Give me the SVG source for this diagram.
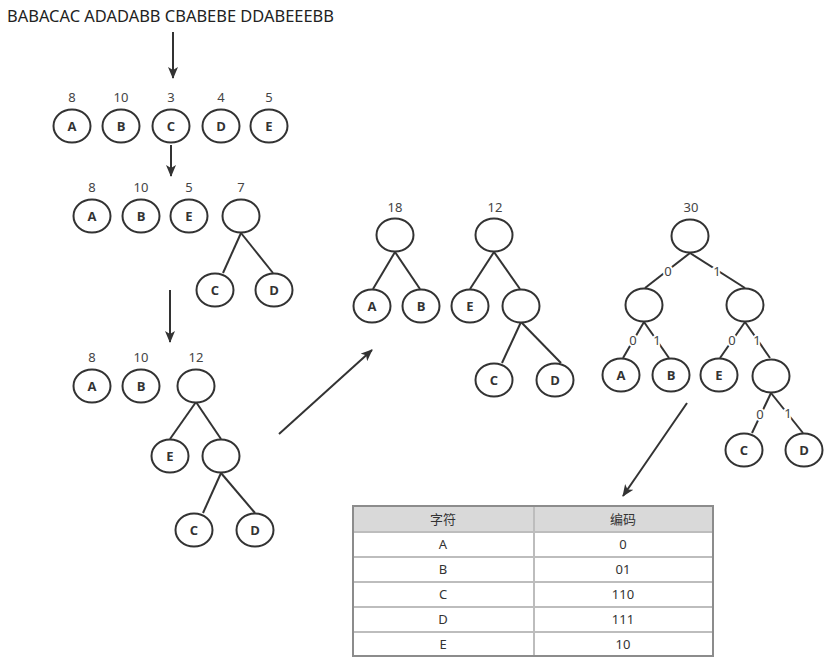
<svg xmlns="http://www.w3.org/2000/svg" width="837" height="666" viewBox="0 0 837 666">
<defs>
<style>
.n ellipse{fill:#fff;stroke:#333;stroke-width:2}
.n text{font-family:"Open Sans","Noto Sans",sans-serif;font-weight:bold;font-size:13px;fill:#333;text-anchor:middle}
.w{font-family:"Noto Sans","Open Sans",sans-serif;font-size:13px;fill:#444;text-anchor:middle}
.e line{stroke:#333;stroke-width:2}
.a line{stroke:#333;stroke-width:2;marker-end:url(#ah)}
.bl{font-family:"Noto Sans","Open Sans",sans-serif;font-size:13px;fill:#444;text-anchor:middle;stroke:#fff;stroke-width:4;paint-order:stroke}
.t{font-family:"Noto Sans","Noto Sans CJK SC",sans-serif;font-size:13px;fill:#333;text-anchor:middle}
</style>
<marker id="ah" markerWidth="12" markerHeight="10" refX="11" refY="5" orient="auto" markerUnits="userSpaceOnUse">
<path d="M0,0 L12,5 L0,10 L3,5 Z" fill="#333"/>
</marker>
</defs>
<rect width="837" height="666" fill="#fff"/>
<text x="7" y="22" font-family="Noto Sans,Open Sans,sans-serif" font-size="16" fill="#222" textLength="327" lengthAdjust="spacingAndGlyphs">BABACAC ADADABB CBABEBE DDABEEEBB</text>

<g id="connectors">
<g class="a">
<line x1="173" y1="32" x2="173" y2="78"/>
<line x1="171" y1="145" x2="171" y2="176"/>
<line x1="170" y1="290" x2="170" y2="342"/>
<line x1="279" y1="434" x2="372" y2="350"/>
<line x1="687" y1="403" x2="623" y2="496"/>
</g>
<g class="e">
<line x1="241" y1="233" x2="223" y2="273"/>
<line x1="241" y1="233" x2="273" y2="273"/>
<line x1="196" y1="402" x2="170" y2="439"/>
<line x1="196" y1="402" x2="221" y2="439"/>
<line x1="221" y1="473" x2="203" y2="513"/>
<line x1="221" y1="473" x2="255" y2="513"/>
<line x1="395" y1="252" x2="373" y2="289"/>
<line x1="395" y1="252" x2="420" y2="289"/>
<line x1="494" y1="252" x2="470" y2="289"/>
<line x1="494" y1="252" x2="520" y2="289"/>
<line x1="521" y1="322" x2="502" y2="363"/>
<line x1="521" y1="322" x2="561" y2="363"/>
<line x1="690" y1="253" x2="645" y2="288"/>
<line x1="690" y1="253" x2="745" y2="288"/>
<line x1="644" y1="322" x2="623" y2="358"/>
<line x1="644" y1="322" x2="669" y2="358"/>
<line x1="745" y1="322" x2="720" y2="358"/>
<line x1="745" y1="322" x2="770" y2="358"/>
<line x1="771" y1="393" x2="752" y2="433"/>
<line x1="771" y1="393" x2="803" y2="433"/>
</g>
<g id="edge-labels">
<text class="bl" x="668" y="276">0</text>
<text class="bl" x="717" y="276">1</text>
<text class="bl" x="633" y="345">0</text>
<text class="bl" x="657" y="345">1</text>
<text class="bl" x="732" y="345">0</text>
<text class="bl" x="757" y="345">1</text>
<text class="bl" x="760" y="419">0</text>
<text class="bl" x="788" y="418">1</text>
</g>
</g>

<g id="row1">
<text class="w" x="72" y="102">8</text><text class="w" x="121" y="102">10</text><text class="w" x="171" y="102">3</text><text class="w" x="221" y="102">4</text><text class="w" x="269" y="102">5</text>
<g id="r1A" class="n"><ellipse cx="72" cy="126" rx="18.5" ry="16.5"/><text x="72" y="131">A</text></g>
<g id="r1B" class="n"><ellipse cx="121" cy="126" rx="18.5" ry="16.5"/><text x="121" y="131">B</text></g>
<g id="r1C" class="n"><ellipse cx="171" cy="126" rx="18.5" ry="16.5"/><text x="171" y="131">C</text></g>
<g id="r1D" class="n"><ellipse cx="221" cy="126" rx="18.5" ry="16.5"/><text x="221" y="131">D</text></g>
<g id="r1E" class="n"><ellipse cx="269" cy="126" rx="18.5" ry="16.5"/><text x="269" y="131">E</text></g>
</g>

<g id="row2">
<text class="w" x="92" y="192">8</text><text class="w" x="141" y="192">10</text><text class="w" x="189" y="192">5</text><text class="w" x="241" y="192">7</text>
<g id="r2A" class="n"><ellipse cx="92" cy="216" rx="18.5" ry="16.5"/><text x="92" y="221">A</text></g>
<g id="r2B" class="n"><ellipse cx="141" cy="216" rx="18.5" ry="16.5"/><text x="141" y="221">B</text></g>
<g id="r2E" class="n"><ellipse cx="189" cy="216" rx="18.5" ry="16.5"/><text x="189" y="221">E</text></g>
<g id="r2N7" class="n"><ellipse cx="241" cy="216" rx="18.5" ry="16.5"/></g>
<g id="r2C" class="n"><ellipse cx="215" cy="290" rx="18.5" ry="16.5"/><text x="215" y="295">C</text></g>
<g id="r2D" class="n"><ellipse cx="274" cy="290" rx="18.5" ry="16.5"/><text x="274" y="295">D</text></g>
</g>

<g id="row3">
<text class="w" x="92" y="362">8</text><text class="w" x="141" y="362">10</text><text class="w" x="196" y="362">12</text>
<g id="r3A" class="n"><ellipse cx="92" cy="386" rx="18.5" ry="16.5"/><text x="92" y="391">A</text></g>
<g id="r3B" class="n"><ellipse cx="141" cy="386" rx="18.5" ry="16.5"/><text x="141" y="391">B</text></g>
<g id="r3N12" class="n"><ellipse cx="196" cy="386" rx="18.5" ry="16.5"/></g>
<g id="r3E" class="n"><ellipse cx="170" cy="456" rx="18.5" ry="16.5"/><text x="170" y="461">E</text></g>
<g id="r3N7" class="n"><ellipse cx="221" cy="456" rx="18.5" ry="16.5"/></g>
<g id="r3C" class="n"><ellipse cx="194" cy="530" rx="18.5" ry="16.5"/><text x="194" y="535">C</text></g>
<g id="r3D" class="n"><ellipse cx="255" cy="530" rx="18.5" ry="16.5"/><text x="255" y="535">D</text></g>
</g>

<g id="mid">
<text class="w" x="395" y="212">18</text><text class="w" x="495" y="212">12</text>
<g id="mN18" class="n"><ellipse cx="395" cy="235" rx="18.5" ry="16.5"/></g>
<g id="mA" class="n"><ellipse cx="372" cy="306" rx="18.5" ry="16.5"/><text x="372" y="311">A</text></g>
<g id="mB" class="n"><ellipse cx="421" cy="306" rx="18.5" ry="16.5"/><text x="421" y="311">B</text></g>
<g id="mN12" class="n"><ellipse cx="494" cy="235" rx="18.5" ry="16.5"/></g>
<g id="mE" class="n"><ellipse cx="470" cy="306" rx="18.5" ry="16.5"/><text x="470" y="311">E</text></g>
<g id="mN7" class="n"><ellipse cx="521" cy="306" rx="18.5" ry="16.5"/></g>
<g id="mC" class="n"><ellipse cx="494" cy="380" rx="18.5" ry="16.5"/><text x="494" y="385">C</text></g>
<g id="mD" class="n"><ellipse cx="555" cy="380" rx="18.5" ry="16.5"/><text x="555" y="385">D</text></g>
</g>

<g id="final">
<text class="w" x="691" y="212">30</text>
<g id="fRoot" class="n"><ellipse cx="690" cy="236" rx="18.5" ry="16.5"/></g>
<g id="fL" class="n"><ellipse cx="644" cy="305" rx="18.5" ry="16.5"/></g>
<g id="fR" class="n"><ellipse cx="745" cy="305" rx="18.5" ry="16.5"/></g>
<g id="fA" class="n"><ellipse cx="621" cy="375" rx="18.5" ry="16.5"/><text x="621" y="380">A</text></g>
<g id="fB" class="n"><ellipse cx="671" cy="375" rx="18.5" ry="16.5"/><text x="671" y="380">B</text></g>
<g id="fE" class="n"><ellipse cx="719" cy="375" rx="18.5" ry="16.5"/><text x="719" y="380">E</text></g>
<g id="fRR" class="n"><ellipse cx="771" cy="376" rx="18.5" ry="16.5"/></g>
<g id="fC" class="n"><ellipse cx="744" cy="450" rx="18.5" ry="16.5"/><text x="744" y="455">C</text></g>
<g id="fD" class="n"><ellipse cx="804" cy="450" rx="18.5" ry="16.5"/><text x="804" y="455">D</text></g>
</g>

<g id="table">
<rect x="353" y="506" width="360" height="26" fill="#d9d9d9"/>
<g stroke="#bdbdbd" stroke-width="2">
<line x1="353" y1="532" x2="713" y2="532"/>
<line x1="353" y1="557" x2="713" y2="557"/>
<line x1="353" y1="582" x2="713" y2="582"/>
<line x1="353" y1="607" x2="713" y2="607"/>
<line x1="353" y1="632" x2="713" y2="632"/>
<line x1="534" y1="506" x2="534" y2="656"/>
</g>
<rect x="353" y="506" width="360" height="150" fill="none" stroke="#8c8c8c" stroke-width="2"/>
<text class="t" x="443" y="524">字符</text><text class="t" x="623" y="524">编码</text>
<text class="t" x="443" y="549">A</text><text class="t" x="623" y="549">0</text>
<text class="t" x="443" y="574">B</text><text class="t" x="623" y="574">01</text>
<text class="t" x="443" y="599">C</text><text class="t" x="623" y="599">110</text>
<text class="t" x="443" y="624">D</text><text class="t" x="623" y="624">111</text>
<text class="t" x="443" y="649">E</text><text class="t" x="623" y="649">10</text>
</g>
</svg>
